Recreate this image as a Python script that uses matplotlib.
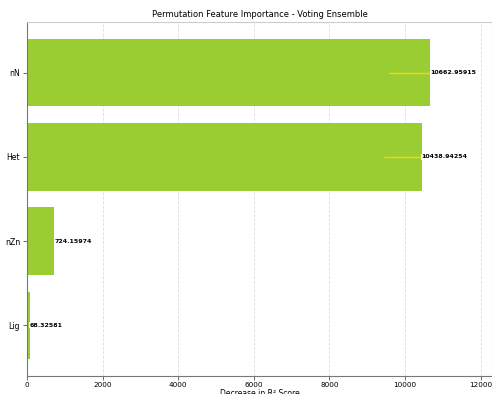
import numpy as np
import matplotlib
matplotlib.use("Agg")
import matplotlib.pyplot as plt

features = ["nN", "Het", "nZn", "Lig"]
importance = [10662.95915, 10438.94254, 724.15974, 68.32581]
std = [1100, 1000, 30, 10]

fig = plt.figure(figsize=(4.92, 3.94), dpi=100)
ax = fig.add_axes([0.055, 0.046, 0.945, 0.898])

y = np.arange(len(features))[::-1]
ax.barh(y, importance, height=0.8, color="yellowgreen", zorder=2,
        xerr=std, error_kw=dict(ecolor="gold", elinewidth=1.0, capsize=0, zorder=3))
for yi, v in zip(y, importance):
    ax.text(v, yi, "%.5f" % v, va="center", ha="left", fontsize=4.5,
            fontweight="bold", zorder=4,
            bbox=dict(facecolor="white", edgecolor="none", pad=0.3))

ax.set_yticks(y)
ax.set_yticklabels(features)
ax.set_ylim(-0.6, 3.6)
ax.set_xlim(0, 12300)
ax.set_xticks(np.arange(0, 12001, 2000))
ax.tick_params(axis="x", labelsize=5.2, length=3, width=0.6, color="#555555", pad=1.5)
ax.tick_params(axis="y", labelsize=5.6, length=3, width=0.6, color="#555555", pad=2)
ax.grid(axis="x", linestyle="--", color="#dddddd", linewidth=0.6, zorder=0)
for s in ["top", "right"]:
    ax.spines[s].set_color("#cccccc")
for s in ["left", "bottom"]:
    ax.spines[s].set_color("#777777")
ax.set_title("Permutation Feature Importance - Voting Ensemble", fontsize=6, pad=4)
ax.set_xlabel("Decrease in R² Score", fontsize=5.5, labelpad=0.5)

fig.savefig("out.png", dpi=100)
